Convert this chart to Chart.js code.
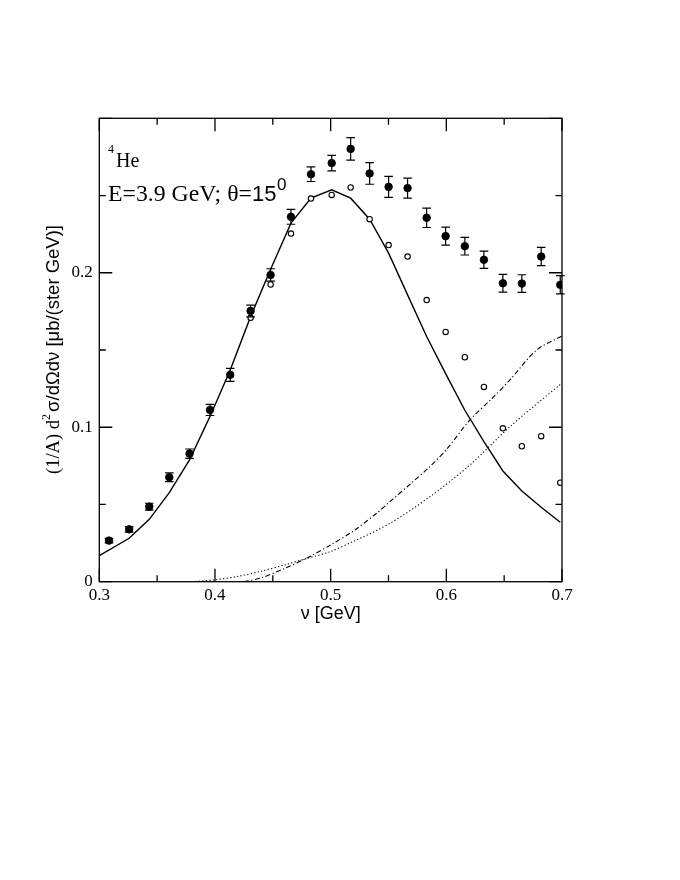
<!DOCTYPE html>
<html>
<head>
<meta charset="utf-8">
<script src="https://cdn.jsdelivr.net/npm/chart.js@4.4.1/dist/chart.umd.min.js"></script>
<style>
html,body{margin:0;padding:0;background:#fff;}
#wrap{width:680px;height:880px;}
</style>
</head>
<body>
<div id="wrap"><canvas id="c" width="680" height="880"></canvas></div>
<script>
// ---- data ----
const nuFilled = [0.3084,0.3258,0.3432,0.3605,0.378,0.3957,0.4132,0.4308,0.4481,0.4657,0.483,0.5009,0.5173,0.5337,0.5501,0.5665,0.583,0.5994,0.616,0.6325,0.6489,0.6653,0.682,0.6985];
const sigmaFilled = [0.0266,0.0339,0.0486,0.0676,0.0829,0.1112,0.1339,0.1753,0.1986,0.2362,0.2638,0.271,0.2802,0.2643,0.2556,0.2548,0.2356,0.2237,0.2172,0.2084,0.1932,0.193,0.2105,0.1922];
const errFilled = [0.0015,0.0018,0.0022,0.0028,0.003,0.0036,0.0042,0.0038,0.004,0.0048,0.0047,0.005,0.0073,0.007,0.0068,0.0065,0.0063,0.0058,0.0057,0.0056,0.0057,0.0057,0.0059,0.0059];

const nuOpen = [0.4308,0.4481,0.4657,0.483,0.5009,0.5173,0.5337,0.5501,0.5665,0.583,0.5994,0.616,0.6325,0.6489,0.6653,0.682,0.6985];
const sigmaOpen = [0.1708,0.1924,0.2254,0.248,0.2504,0.2552,0.2347,0.2179,0.2105,0.1823,0.1617,0.1453,0.1261,0.0993,0.0877,0.0942,0.0641];

const nuSolid = [0.3,0.3258,0.3432,0.3605,0.378,0.3957,0.4132,0.4308,0.4481,0.4657,0.483,0.5009,0.5173,0.5337,0.5501,0.5665,0.583,0.5994,0.616,0.6325,0.6489,0.6653,0.682,0.6985];
const sigmaSolid = [0.0168,0.0281,0.0404,0.0577,0.0788,0.107,0.137,0.1716,0.2023,0.2321,0.2483,0.2537,0.2483,0.2347,0.2127,0.1857,0.1587,0.1347,0.111,0.0907,0.0717,0.0587,0.0482,0.0385];

const nuDashDot = [0.425,0.44,0.46,0.48,0.50,0.52,0.54,0.5513,0.57,0.5858,0.60,0.6204,0.64,0.655,0.678,0.70];
const sigmaDashDot = [0,0.0025,0.0085,0.0155,0.0238,0.033,0.0445,0.0518,0.064,0.0745,0.0855,0.1047,0.119,0.1306,0.150,0.159];

const nuDotted = [0.38,0.40,0.42,0.44,0.46,0.48,0.4994,0.52,0.5513,0.5858,0.6204,0.655,0.698,0.70];
const sigmaDotted = [0,0.0012,0.0035,0.0068,0.0108,0.0152,0.0194,0.0262,0.0378,0.055,0.0756,0.1004,0.1274,0.1285];

const xTickLabels = [0.3,0.4,0.5,0.6,0.7];
const xMinorTicks = [0.35,0.45,0.55,0.65];
const yTickLabels = [0,0.1,0.2];
const yMajorTicks = [0,0.1,0.2,0.3];
const yMinorTicks = [0.05,0.15,0.25];

const pts = (xs, ys) => xs.map((x, i) => ({x: x, y: ys[i]}));

// ---- plugins ----
const frameTicks = {
  id: 'frameTicks',
  afterDraw(chart) {
    const {ctx, chartArea: a, scales: {x, y}} = chart;
    ctx.save();
    ctx.strokeStyle = '#000';
    ctx.lineWidth = 1.3;
    ctx.strokeRect(a.left, a.top, a.right - a.left, a.bottom - a.top);
    const MAJ = 13, MIN = 6.5;
    ctx.beginPath();
    const xt = (v, L) => { const p = x.getPixelForValue(v);
      ctx.moveTo(p, a.bottom); ctx.lineTo(p, a.bottom - L);
      ctx.moveTo(p, a.top); ctx.lineTo(p, a.top + L); };
    const yt = (v, L) => { const p = y.getPixelForValue(v);
      ctx.moveTo(a.left, p); ctx.lineTo(a.left + L, p);
      ctx.moveTo(a.right, p); ctx.lineTo(a.right - L, p); };
    xTickLabels.forEach(v => xt(v, MAJ));
    xMinorTicks.forEach(v => xt(v, MIN));
    yMajorTicks.forEach(v => yt(v, MAJ));
    yMinorTicks.forEach(v => yt(v, MIN));
    ctx.stroke();
    ctx.restore();
  }
};

const errorBars = {
  id: 'errorBars',
  afterDatasetsDraw(chart) {
    const {ctx, scales: {x, y}} = chart;
    ctx.save();
    ctx.strokeStyle = '#000';
    ctx.lineWidth = 1.2;
    ctx.beginPath();
    const cap = 4.3;
    nuFilled.forEach((nu, i) => {
      const px = x.getPixelForValue(nu);
      const y1 = y.getPixelForValue(sigmaFilled[i] - errFilled[i]);
      const y2 = y.getPixelForValue(sigmaFilled[i] + errFilled[i]);
      ctx.moveTo(px, y1); ctx.lineTo(px, y2);
      ctx.moveTo(px - cap, y1); ctx.lineTo(px + cap, y1);
      ctx.moveTo(px - cap, y2); ctx.lineTo(px + cap, y2);
    });
    ctx.stroke();
    ctx.restore();
  }
};

const texts = {
  id: 'texts',
  afterDraw(chart) {
    const ctx = chart.ctx;
    ctx.save();
    ctx.fillStyle = '#000';
    ctx.textBaseline = 'alphabetic';
    ctx.textAlign = 'left';
    // 4He
    ctx.font = '12px "Liberation Serif"';
    ctx.fillText('4', 108, 153.3);
    ctx.font = '20px "Liberation Serif"';
    ctx.fillText('He', 116, 166.7);
    // E=3.9 GeV; θ=15^0
    const s1 = 'E=3.9 GeV; \u03b8=';
    ctx.font = '22px "Liberation Serif"';
    let w = ctx.measureText(s1).width;
    const fs = Math.min(24, 22 * 144 / w);
    ctx.font = fs.toFixed(2) + 'px "Liberation Serif"';
    ctx.fillText(s1, 108, 200.7);
    w = ctx.measureText(s1).width;
    ctx.font = '22px "Liberation Sans"';
    ctx.fillText('15', 108 + w, 200.7);
    const w2 = ctx.measureText('15').width;
    ctx.font = '17px "Liberation Sans"';
    ctx.fillText('0', 108 + w + w2 + 0.5, 189.5);

    // y-axis title (mixed fonts), scaled to the reference length
    const parts = [
      {t: '(1/A) d', fam: '"Liberation Serif"', size: 17, dy: -0, gap: 0},
      {t: '2', fam: '"Liberation Serif"', size: 11, dy: -7.5, gap: 2},
      {t: '\u03c3/d\u03a9d\u03bd [\u03bcb/(ster GeV)]', fam: '"Liberation Sans"', size: 17, dy: 0, gap: 0}
    ];
    let total = 0;
    parts.forEach(p => { ctx.font = p.size + 'px ' + p.fam; total += ctx.measureText(p.t).width + p.gap; });
    const k = 249 / total;
    total = 0;
    parts.forEach(p => { ctx.font = (p.size * k).toFixed(2) + 'px ' + p.fam; p.w = ctx.measureText(p.t).width; total += p.w + p.gap * k; });
    ctx.translate(58.5, 349.5);
    ctx.rotate(-Math.PI / 2);
    let cx = -total / 2;
    parts.forEach(p => { ctx.font = (p.size * k).toFixed(2) + 'px ' + p.fam; ctx.fillText(p.t, cx, p.dy * k); cx += p.w + p.gap * k; });
    ctx.restore();
  }
};

// ---- chart ----
const chart = new Chart(document.getElementById('c'), {
  type: 'scatter',
  data: {
    datasets: [
      { label: 'filled', data: pts(nuFilled, sigmaFilled), order: 0,
        pointRadius: 3.8, pointHoverRadius: 3.8, pointBackgroundColor: '#000', pointBorderColor: '#000',
        pointBorderWidth: 0.8, showLine: false },
      { label: 'open', data: pts(nuOpen, sigmaOpen), order: 1,
        pointRadius: 2.7, pointHoverRadius: 2.7, pointBackgroundColor: '#fff', pointBorderColor: '#000',
        pointBorderWidth: 1.1, showLine: false },
      { label: 'solid', data: pts(nuSolid, sigmaSolid), order: 2, showLine: true,
        borderColor: '#000', borderWidth: 1.4, pointRadius: 0, tension: 0, fill: false },
      { label: 'dashdot', data: pts(nuDashDot, sigmaDashDot), order: 3, showLine: true,
        borderColor: '#000', borderWidth: 1.1, borderDash: [5, 2.5, 1.2, 2.5], pointRadius: 0, tension: 0.3, fill: false },
      { label: 'dotted', data: pts(nuDotted, sigmaDotted), order: 4, showLine: true,
        borderColor: '#000', borderWidth: 1.1, borderDash: [1.2, 2.3], pointRadius: 0, tension: 0.3, fill: false }
    ]
  },
  options: {
    responsive: false,
    animation: false,
    events: [],
    layout: { padding: { left: 39.3, right: 118, top: 118.3, bottom: 248.3 } },
    plugins: { legend: { display: false }, tooltip: { enabled: false }, title: { display: false } },
    scales: {
      x: {
        type: 'linear', min: 0.3, max: 0.7,
        grid: { display: false, drawTicks: false },
        border: { display: false },
        afterBuildTicks: s => { s.ticks = xTickLabels.map(v => ({value: v})); },
        afterFit: s => { s.height = 50; },
        ticks: { color: '#000', padding: 4, maxRotation: 0, autoSkip: false,
          font: { family: '"Liberation Serif"', size: 17 },
          callback: v => String(Math.round(v * 10) / 10) },
        title: { display: true, text: '\u03bd [GeV]', color: '#000',
          font: { family: '"Liberation Sans"', size: 18 }, padding: { top: 0, bottom: 7 } }
      },
      y: {
        type: 'linear', min: 0, max: 0.3,
        grid: { display: false, drawTicks: false },
        border: { display: false },
        afterBuildTicks: s => { s.ticks = yTickLabels.map(v => ({value: v})); },
        afterFit: s => { s.width = 60; },
        ticks: { color: '#000', padding: 6.5, autoSkip: false,
          font: { family: '"Liberation Serif"', size: 17 },
          callback: v => String(Math.round(v * 10) / 10) }
      }
    }
  },
  plugins: [errorBars, frameTicks, texts]
});
</script>
</body>
</html>
